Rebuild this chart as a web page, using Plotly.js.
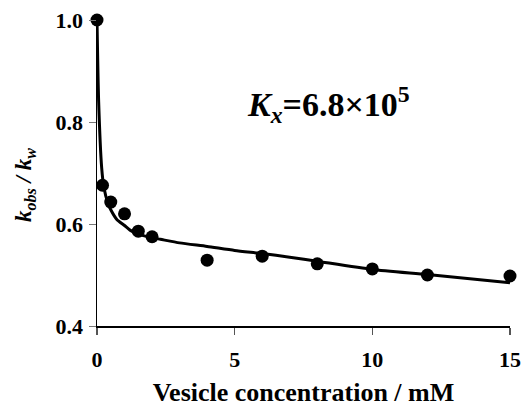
<!DOCTYPE html>
<html><head><meta charset="utf-8">
<script src="https://cdn.plot.ly/plotly-3.0.1.min.js"></script>
<style>html,body{margin:0;padding:0;background:#fff;}#chart{width:524px;height:410px;}</style>
</head><body><div id="chart"></div>
<script>
// Measured points
const concX = [0, 0.2, 0.5, 1.0, 1.5, 2.0, 4.0, 6.0, 8.0, 10.0, 12.0, 15.0];
const ratioY = [1.0, 0.676, 0.643, 0.620, 0.586, 0.575, 0.529, 0.537, 0.522, 0.512, 0.500, 0.498];
// Fitted curve
const fitX = [0, 0.06, 0.17, 0.25, 0.4, 0.5, 0.72, 1.0, 1.2, 1.5, 2.0, 2.3, 3, 4, 5, 6, 7, 8, 10, 12, 15];
const fitY = [1.0, 0.84, 0.71, 0.672, 0.64, 0.628, 0.609, 0.597, 0.588, 0.580, 0.573, 0.570, 0.563, 0.556, 0.548, 0.542, 0.535, 0.527, 0.511, 0.501, 0.485];
const xTicks = [0, 5, 10, 15];
const yTicks = [0.4, 0.6, 0.8, 1.0];
const yTickText = ['0.4', '0.6', '0.8', '1.0'];
const xTitle = 'Vesicle concentration / mM';
const yTitle = '<i>k<sub>obs</sub> / k<sub>w</sub></i>';
const annText = '<i>K<sub>x</sub></i>=6.8\u00d710<sup>5</sup>';

const serif = 'Liberation Serif';
const tickWrap = t => '<span style="font-size:22px;font-weight:bold">' + t + '</span>';
const traces = [
  {x: fitX, y: fitY, mode: 'lines', line: {color: '#000', width: 3, shape: 'spline', smoothing: 0.6}, hoverinfo: 'skip', cliponaxis: false},
  {x: concX, y: ratioY, mode: 'markers', marker: {color: '#000', size: 13}, cliponaxis: false}
];
const layout = {
  width: 524, height: 410,
  margin: {l: 97, r: 14, t: 20, b: 84},
  paper_bgcolor: '#fff', plot_bgcolor: '#fff',
  showlegend: false,
  font: {family: serif, color: '#000', size: 22, weight: 'bold'},
  xaxis: {
    range: [0, 15], tickvals: xTicks, ticktext: xTicks.map(v => tickWrap(String(v))),
    showgrid: false, zeroline: false, showline: true, linecolor: '#000', linewidth: 1.5,
    ticks: 'outside', ticklen: 7, tickcolor: '#555', tickwidth: 1.5,
    tickfont: {family: serif, size: 22, color: '#000', weight: 'bold'}, ticklabelstandoff: 6,
    title: {text: '<b>' + xTitle + '</b>', font: {family: serif, size: 26, color: '#000'}, standoff: 12}
  },
  yaxis: {
    range: [0.4, 1.0], tickvals: yTicks, ticktext: yTickText.map(tickWrap),
    showgrid: false, zeroline: false, showline: true, linecolor: '#000', linewidth: 1.5,
    ticks: 'outside', ticklen: 7, tickcolor: '#777', tickwidth: 1,
    tickfont: {family: serif, size: 22, color: '#000', weight: 'bold'}, ticklabelstandoff: 1
  },
  annotations: [
    {x: 8.39, y: 0.835, xref: 'x', yref: 'y', text: '<b>' + annText + '</b>', showarrow: false,
     font: {family: serif, size: 34, color: '#000'}},
    {x: -0.174, y: 0.461, xref: 'paper', yref: 'paper', xanchor: 'center', yanchor: 'middle',
     text: '<b>' + yTitle + '</b>', showarrow: false,
     textangle: -90, font: {family: serif, size: 23, color: '#000'}}
  ]
};
Plotly.newPlot('chart', traces, layout, {staticPlot: true, displayModeBar: false});
</script></body></html>
